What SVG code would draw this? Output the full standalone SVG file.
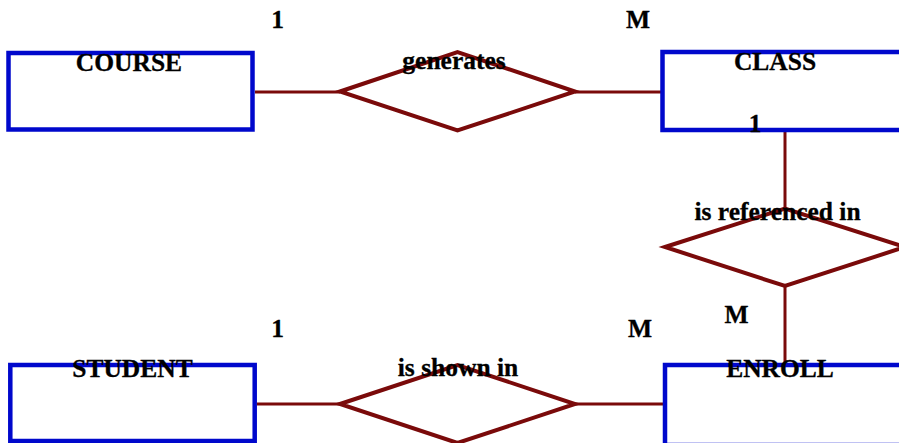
<svg xmlns="http://www.w3.org/2000/svg" width="899" height="443" viewBox="0 0 899 443">
  <style>
    .entity { fill: #ffffff; stroke: #0008cc; stroke-width: 4.5; }
    .rel { fill: #ffffff; stroke: #7a0a0a; stroke-width: 4; stroke-linejoin: miter; }
    .link { stroke: #7a0a0a; stroke-width: 3; fill: none; }
    text { font-family: "Liberation Serif", "Times New Roman", serif; font-weight: bold; font-size: 25.5px; fill: #000000; text-anchor: middle; stroke: #000000; stroke-width: 0.3; }
  </style>
  <rect width="899" height="443" fill="#ffffff"/>

  <!-- connectors -->
  <g id="connectors">
    <line class="link" x1="255" y1="92" x2="340" y2="92"/>
    <line class="link" x1="575" y1="92" x2="662" y2="92"/>
    <line class="link" x1="785" y1="131" x2="785" y2="209"/>
    <line class="link" x1="785" y1="286" x2="785" y2="365"/>
    <line class="link" x1="257" y1="404" x2="340" y2="404"/>
    <line class="link" x1="575" y1="404" x2="665" y2="404"/>
  </g>

  <!-- entities -->
  <g id="course">
    <rect class="entity" x="8.5" y="53" width="244" height="76.5"/>
    <text x="129" y="71">COURSE</text>
  </g>
  <g id="class">
    <rect class="entity" x="662.5" y="52" width="260" height="78"/>
    <text x="775" y="70">CLASS</text>
  </g>
  <g id="student">
    <rect class="entity" x="10.3" y="365" width="244.4" height="76"/>
    <text x="132.5" y="377">STUDENT</text>
  </g>
  <g id="enroll">
    <rect class="entity" x="665" y="365" width="260" height="80"/>
    <text x="780" y="377">ENROLL</text>
  </g>

  <!-- relationships -->
  <g id="generates">
    <polygon class="rel" points="340,91.5 457.5,52 575,91.5 457.5,130.5"/>
    <text x="454" y="69">generates</text>
  </g>
  <g id="is-referenced-in">
    <polygon class="rel" points="665,247 785,208.5 905,247 785,286"/>
    <text x="777.5" y="220">is referenced in</text>
  </g>
  <g id="is-shown-in">
    <polygon class="rel" points="340,404 457.5,365 575,404 457.5,443"/>
    <text x="458" y="376">is shown in</text>
  </g>

  <!-- cardinalities -->
  <g id="cardinalities">
    <text x="277.5" y="28">1</text>
    <text x="638" y="28">M</text>
    <text x="755" y="132">1</text>
    <text x="736.5" y="323">M</text>
    <text x="277.5" y="337">1</text>
    <text x="640" y="337">M</text>
  </g>
</svg>
